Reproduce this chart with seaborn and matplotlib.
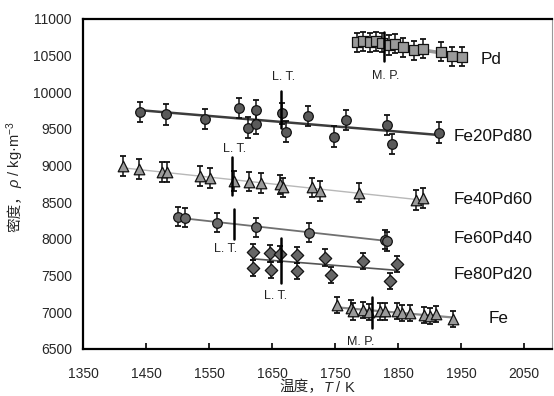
import numpy as np
import pandas as pd
import matplotlib
matplotlib.use("Agg")
import matplotlib.pyplot as plt
import seaborn as sns

# Measured densities of liquid Fe-Pd alloys (temperature in K, density in kg/m^3)
pd_T = [1785, 1795, 1805, 1815, 1825, 1835, 1845, 1858, 1876, 1890, 1918, 1936, 1951]
pd_rho = [10680, 10690, 10680, 10690, 10670, 10640, 10660, 10610, 10570, 10590, 10550, 10490, 10480]

fe20_T = [1440, 1482, 1543, 1597, 1612, 1624, 1625, 1665, 1672, 1707, 1748, 1767, 1832, 1840, 1915]
fe20_rho = [9730, 9695, 9635, 9785, 9515, 9565, 9755, 9710, 9460, 9670, 9390, 9620, 9550, 9290, 9445]

fe40_T = [1413, 1438, 1476, 1484, 1535, 1552, 1590, 1613, 1633, 1663, 1667, 1714, 1726, 1788, 1878, 1889]
fe40_rho = [8990, 8950, 8905, 8905, 8860, 8825, 8790, 8780, 8765, 8740, 8700, 8700, 8655, 8630, 8530, 8555]

fe60_T = [1500, 1512, 1562, 1624, 1709, 1830, 1833]
fe60_rho = [8300, 8285, 8220, 8155, 8080, 7990, 7965]

fe80_T = [1619, 1619, 1647, 1648, 1662, 1690, 1690, 1734, 1743, 1795, 1838, 1848]
fe80_rho = [7815, 7605, 7800, 7575, 7795, 7780, 7560, 7745, 7510, 7700, 7430, 7655]

fe_T = [1753, 1776, 1779, 1794, 1804, 1822, 1829, 1848, 1857, 1869, 1892, 1900, 1910, 1938]
fe_rho = [7100, 7055, 7010, 7030, 7000, 7010, 7010, 7020, 6985, 6985, 6965, 6950, 6975, 6905]

# Measurement uncertainty per series (kg/m^3)
series_err = [130, 140, 135, 130, 110, 110]
series_names = ["Pd", "Fe20Pd80", "Fe40Pd60", "Fe60Pd40", "Fe80Pd20", "Fe"]

# Melting points (M. P.) and liquidus temperatures (L. T.)
mp_T = [1828, 1808]
lt_T = [1664, 1587, 1589, 1664]

x_ticks = [1350, 1450, 1550, 1650, 1750, 1850, 1950, 2050]
y_ticks = [6500, 7000, 7500, 8000, 8500, 9000, 9500, 10000, 10500, 11000]

sns.set_theme(style="white")
plt.rcParams["font.family"] = ["Liberation Sans", "Noto Sans CJK SC", "DejaVu Sans"]
plt.rcParams["mathtext.fontset"] = "custom"
plt.rcParams["mathtext.rm"] = "Liberation Sans"
plt.rcParams["mathtext.it"] = "Liberation Sans:italic"

fig = plt.figure(figsize=(5.54, 3.96), dpi=100)
ax = fig.add_axes([0.150, 0.119, 0.847, 0.834])

series = [
    (pd_T, pd_rho, "s", "#9a9a9a", "#999999", 2.6, 48),
    (fe20_T, fe20_rho, "o", "#5a5a5a", "#3c3c3c", 1.8, 48),
    (fe40_T, fe40_rho, "^", "#9a9a9a", "#b8b8b8", 1.0, 58),
    (fe60_T, fe60_rho, "o", "#6a6a6a", "#707070", 1.3, 48),
    (fe80_T, fe80_rho, "D", "#666666", "#555555", 1.2, 40),
    (fe_T, fe_rho, "^", "#9a9a9a", "#8a8a8a", 1.6, 58),
]

for (T, rho, mk, fc, lc, lw, s), err, name in zip(series, series_err, series_names):
    df = pd.DataFrame({"T": T, "rho": rho})
    sns.regplot(data=df, x="T", y="rho", ax=ax, scatter=False, ci=None,
                truncate=True, line_kws=dict(color=lc, lw=lw, zorder=2))
    ax.errorbar(df["T"], df["rho"], yerr=err, fmt="none", ecolor="#111111",
                elinewidth=1.1, capsize=2.2, capthick=1.3, zorder=3)
    sns.scatterplot(data=df, x="T", y="rho", ax=ax, marker=mk, s=s,
                    color=fc, edgecolor="#111111", linewidth=0.9, zorder=4,
                    legend=False)

# Vertical markers for melting points and liquidus temperatures
vmarks = [
    (mp_T[0], 10420, 10820, "M. P.", 1830, 10215),
    (mp_T[1], 6790, 7210, "M. P.", 1790, 6590),
    (lt_T[0], 9510, 10020, "L. T.", 1669, 10210),
    (lt_T[1], 8600, 9120, "L. T.", 1590, 9225),
    (lt_T[2], 7995, 8400, "L. T.", 1576, 7855),
    (lt_T[3], 7400, 8010, "L. T.", 1656, 7220),
]
for xv, y0, y1, txt, tx, ty in vmarks:
    ax.plot([xv, xv], [y0, y1], color="black", lw=1.8, zorder=5)
    ax.text(tx, ty, txt, ha="center", va="center", fontsize=9, color="#222222")

# Series labels on the right
label_pos = [(1981, 10447), (1938, 9392), (1938, 8540), (1938, 8008), (1938, 7508), (1994, 6918)]
for name, (tx, ty) in zip(series_names, label_pos):
    ax.text(tx, ty, name, ha="left", va="center", fontsize=12.3, color="#111111")

ax.set_xlim(1350, 2095)
ax.set_ylim(6500, 11000)
ax.set_xticks(x_ticks)
ax.set_yticks(y_ticks)
ax.tick_params(axis="x", direction="in", length=4, width=1.2, color="black",
               pad=13, labelsize=10, bottom=True)
ax.tick_params(axis="y", length=0, pad=8, labelsize=10, left=True)
ax.set_xlabel("")
ax.set_ylabel("")

for side in ["left", "bottom", "top"]:
    ax.spines[side].set_color("black")
    ax.spines[side].set_linewidth(1.6)
ax.spines["right"].set_color("#999999")
ax.spines["right"].set_linewidth(0.8)

# Axis titles: Chinese part in a CJK font, symbol part in mathtext
cjk = "Noto Sans CJK SC"
fig.canvas.draw()
renderer = fig.canvas.get_renderer()
W, H = fig.get_size_inches() * fig.dpi

# x title, centred under the axes
xa = fig.text(0, 0.022, "温度，", family=cjk, fontsize=10.5, ha="left", va="center")
xb = fig.text(0, 0.022, "$T$ / K", fontsize=10.5, ha="left", va="center")
wa = xa.get_window_extent(renderer).width
wb = xb.get_window_extent(renderer).width
x0 = (0.150 + 0.847 / 2) * W - (wa + wb) / 2
xa.set_x(x0 / W)
xb.set_x((x0 + wa) / W)

# y title, rotated, reading bottom to top
ya = fig.text(0.027, 0, "密度，", family=cjk, fontsize=10.5, rotation=90,
              ha="center", va="bottom")
yb = fig.text(0.027, 0, "$\\rho$ / kg·m$^{-3}$", fontsize=10.5, rotation=90,
              ha="center", va="bottom")
ha_ = ya.get_window_extent(renderer).height
hb_ = yb.get_window_extent(renderer).height
yc = H - 177
y0 = yc - (ha_ + hb_) / 2
ya.set_y(y0 / H)
yb.set_y((y0 + ha_) / H)

fig.savefig("out.png", dpi=100)
